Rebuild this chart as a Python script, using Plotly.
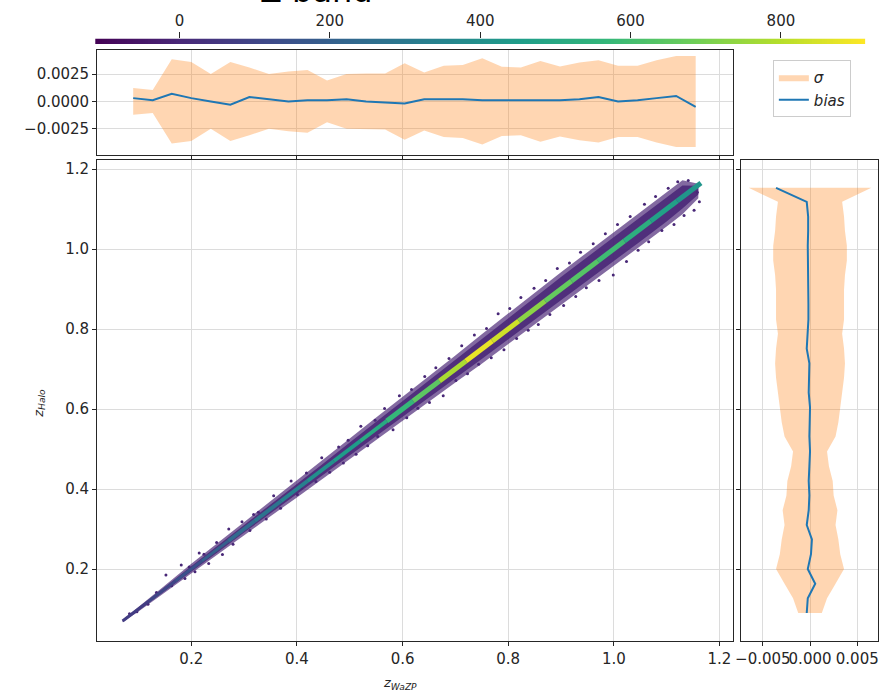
import numpy as np
import plotly.graph_objects as go
from plotly.colors import sample_colorscale

# ---------------- data ----------------
CMIN, CMAX = -112, 912
cb_ticks = [0, 200, 400, 600, 800]

bin_x = [0.090, 0.127, 0.163, 0.200, 0.237, 0.274, 0.310, 0.347, 0.384, 0.420,
         0.457, 0.494, 0.531, 0.567, 0.604, 0.641, 0.678, 0.714, 0.751, 0.788,
         0.824, 0.861, 0.898, 0.935, 0.971, 1.008, 1.045, 1.081, 1.118, 1.155]
bias_top = [0.0003, 0.0001, 0.0007, 0.0003, 0.0, -0.0003, 0.0004, 0.0002, 0.0, 0.0001,
            0.0001, 0.0002, 0.0, -0.0001, -0.0002, 0.0002, 0.0002, 0.0002, 0.0001, 0.0001,
            0.0001, 0.0001, 0.0001, 0.0002, 0.0004, 0.0, 0.0001, 0.0003, 0.0005, -0.0005]
sigma_top = [0.00123, 0.00105, 0.00386, 0.00361, 0.0025, 0.00361, 0.0031, 0.0025, 0.00274, 0.00286,
             0.0019, 0.0025, 0.00256, 0.00256, 0.0035, 0.00265, 0.00325, 0.00334, 0.00395, 0.00316,
             0.0031, 0.0037, 0.0032, 0.00355, 0.00376, 0.00325, 0.00325, 0.00376, 0.00416, 0.00416]

bin_z = [0.090, 0.127, 0.163, 0.200, 0.237, 0.274, 0.310, 0.347, 0.384, 0.420,
         0.457, 0.494, 0.531, 0.567, 0.604, 0.641, 0.678, 0.714, 0.751, 0.788,
         0.824, 0.861, 0.898, 0.935, 0.971, 1.008, 1.045, 1.081, 1.118, 1.153]
bias_right = [-0.00035, -0.00024, 0.00055, -0.00024, 0.0001, 0.0002, -0.00035, -0.00014, -0.00007, -0.00014,
              -0.00007, 0.0, -0.00007, -0.00007, 0.0, -0.00014, -0.00014, -0.00007, -0.00035, -0.00024,
              -0.00017, -0.00017, -0.0002, -0.00017, -0.00024, -0.00024, -0.0002, -0.0002, -0.00035, -0.0036]
sigma_right = [0.00125, 0.0018, 0.0027, 0.0036, 0.0032, 0.0030, 0.0027, 0.0029, 0.0025, 0.0024,
               0.0020, 0.0018, 0.0027, 0.0030, 0.0032, 0.0034, 0.0036, 0.0037, 0.0036, 0.0034,
               0.0036, 0.0036, 0.0036, 0.0037, 0.0039, 0.0039, 0.0037, 0.0036, 0.0034, 0.0065]

# dense point cloud envelope (z_WaZP, z_Halo lower/upper)
cloud_x = [0.07, 0.10, 0.15, 0.20, 0.25, 0.30, 0.35, 0.40, 0.45, 0.50, 0.55, 0.60,
           0.65, 0.70, 0.75, 0.80, 0.85, 0.90, 0.95, 1.00, 1.05, 1.10, 1.13, 1.16]
cloud_lo_outer = [0.067, 0.094, 0.141, 0.187, 0.235, 0.284, 0.332, 0.379, 0.427, 0.474, 0.521, 0.570,
                  0.618, 0.666, 0.713, 0.761, 0.809, 0.858, 0.908, 0.958, 1.007, 1.056, 1.087, 1.127]
cloud_hi_outer = [0.073, 0.106, 0.159, 0.213, 0.265, 0.316, 0.368, 0.421, 0.473, 0.526, 0.579, 0.630,
                  0.682, 0.734, 0.787, 0.839, 0.891, 0.942, 0.992, 1.042, 1.093, 1.144, 1.172, 1.163]
cloud_lo_inner = [0.069, 0.097, 0.145, 0.193, 0.242, 0.291, 0.340, 0.388, 0.436, 0.484, 0.532, 0.581,
                  0.629, 0.677, 0.725, 0.773, 0.821, 0.870, 0.920, 0.970, 1.019, 1.069, 1.101, 1.136]
cloud_hi_inner = [0.071, 0.103, 0.155, 0.207, 0.258, 0.309, 0.360, 0.412, 0.464, 0.516, 0.568, 0.619,
                  0.671, 0.723, 0.775, 0.827, 0.879, 0.930, 0.980, 1.030, 1.081, 1.131, 1.159, 1.158]

# scattered individual points
pts_x = [0.083, 0.097, 0.118, 0.134, 0.152, 0.163, 0.181, 0.188, 0.196, 0.207, 0.215, 0.224,
         0.233, 0.248, 0.259, 0.271, 0.279, 0.296, 0.311, 0.318, 0.327, 0.342, 0.356, 0.369,
         0.389, 0.401, 0.408, 0.418, 0.436, 0.447, 0.462, 0.479, 0.488, 0.497, 0.512, 0.521,
         0.534, 0.548, 0.553, 0.566, 0.582, 0.594, 0.608, 0.617, 0.629, 0.642, 0.651, 0.663,
         0.677, 0.688, 0.701, 0.712, 0.723, 0.736, 0.744, 0.759, 0.768, 0.781, 0.792, 0.803,
         0.816, 0.824, 0.838, 0.849, 0.857, 0.871, 0.879, 0.893, 0.905, 0.916, 0.928, 0.937,
         0.948, 0.961, 0.972, 0.984, 0.999, 1.007, 1.024, 1.031, 1.046, 1.058, 1.066, 1.079,
         1.091, 1.103, 1.114, 1.121, 1.133, 1.141, 1.152, 1.158, 1.162]
pts_y = [0.088, 0.093, 0.112, 0.141, 0.185, 0.158, 0.210, 0.176, 0.205, 0.193, 0.240, 0.237,
         0.214, 0.266, 0.236, 0.300, 0.262, 0.318, 0.296, 0.336, 0.342, 0.325, 0.383, 0.352,
         0.420, 0.386, 0.402, 0.440, 0.419, 0.478, 0.442, 0.505, 0.465, 0.522, 0.487, 0.557,
         0.508, 0.572, 0.531, 0.601, 0.548, 0.633, 0.578, 0.649, 0.602, 0.681, 0.616, 0.703,
         0.633, 0.726, 0.671, 0.758, 0.688, 0.785, 0.712, 0.801, 0.728, 0.838, 0.748, 0.851,
         0.776, 0.879, 0.797, 0.902, 0.811, 0.921, 0.836, 0.951, 0.859, 0.965, 0.881, 0.992,
         0.903, 1.013, 0.921, 1.038, 0.935, 1.061, 0.969, 1.081, 0.997, 1.112, 1.018, 1.131,
         1.046, 1.152, 1.061, 1.168, 1.084, 1.171, 1.097, 1.142, 1.118]

# dense core (density-coloured)
core_x = [0.07, 0.12, 0.17, 0.22, 0.27, 0.32, 0.37, 0.42, 0.47, 0.52, 0.57, 0.62,
          0.67, 0.72, 0.77, 0.82, 0.87, 0.92, 0.97, 1.02, 1.07, 1.12, 1.165]
core_y = [0.07, 0.12, 0.17, 0.22, 0.27, 0.32, 0.37, 0.42, 0.47, 0.52, 0.57, 0.62,
          0.67, 0.72, 0.77, 0.82, 0.87, 0.92, 0.97, 1.02, 1.07, 1.12, 1.165]
core_d = [60, 90, 120, 170, 220, 260, 300, 370, 420, 480, 540, 600,
          700, 860, 900, 780, 680, 650, 620, 560, 500, 440, 400]

# ---------------- figure ----------------
W, H = 881, 691
FONT = "DejaVu Sans"
BAND = "rgba(255,127,14,0.32)"
BLUE = "#1f77b4"
GRID = "#dcdcdc"
AX = "#262626"


def px(a, b):
    return [a / W, b / W]


def py(top, bottom):
    return [1 - bottom / H, 1 - top / H]


fig = go.Figure()

# top panel: sigma band + bias
fig.add_trace(go.Scatter(
    x=bin_x + bin_x[::-1], y=sigma_top + [-s for s in sigma_top[::-1]],
    fill="toself", fillcolor=BAND, line=dict(width=0), mode="lines",
    name="<i>σ</i>", xaxis="x2", yaxis="y2", hoverinfo="skip"))
fig.add_trace(go.Scatter(
    x=bin_x, y=bias_top, mode="lines", line=dict(color=BLUE, width=2),
    name="<i>bias</i>", xaxis="x2", yaxis="y2"))

# right panel
fig.add_trace(go.Scatter(
    x=sigma_right + [-s for s in sigma_right[::-1]], y=bin_z + bin_z[::-1],
    fill="toself", fillcolor=BAND, line=dict(width=0), mode="lines",
    showlegend=False, xaxis="x3", yaxis="y3", hoverinfo="skip"))
fig.add_trace(go.Scatter(
    x=bias_right, y=bin_z, mode="lines", line=dict(color=BLUE, width=2),
    showlegend=False, xaxis="x3", yaxis="y3"))

# main panel cloud
low_col = sample_colorscale("Viridis", [(0 - CMIN) / (CMAX - CMIN)])[0]
fig.add_trace(go.Scatter(
    x=cloud_x + cloud_x[::-1], y=cloud_hi_outer + cloud_lo_outer[::-1],
    fill="toself", fillcolor="rgba(72,36,117,0.68)", line=dict(width=0),
    mode="lines", showlegend=False, hoverinfo="skip"))
fig.add_trace(go.Scatter(
    x=cloud_x + cloud_x[::-1], y=cloud_hi_inner + cloud_lo_inner[::-1],
    fill="toself", fillcolor="rgba(72,36,117,0.85)", line=dict(width=0),
    mode="lines", showlegend=False, hoverinfo="skip"))
fig.add_trace(go.Scatter(
    x=pts_x, y=pts_y, mode="markers",
    marker=dict(size=3, color=low_col), showlegend=False))

# density-coloured core
for i in range(len(core_x) - 1):
    d = 0.5 * (core_d[i] + core_d[i + 1])
    col = sample_colorscale("Viridis", [(d - CMIN) / (CMAX - CMIN)])[0]
    w = 3 if core_x[i] < 0.25 else (4 if core_x[i] < 0.55 else 5)
    fig.add_trace(go.Scatter(
        x=core_x[i:i + 2], y=core_y[i:i + 2], mode="lines",
        line=dict(color=col, width=w),
        showlegend=False, hoverinfo="skip"))

# colour bar as a gradient strip on its own axis
cb_vals = list(np.linspace(CMIN, CMAX, 300))
fig.add_trace(go.Heatmap(
    x=cb_vals, y=[0], z=[cb_vals], colorscale="Viridis",
    zmin=CMIN, zmax=CMAX, showscale=False, xaxis="x4", yaxis="y4",
    hoverinfo="skip"))

tickfont = dict(family=FONT, size=15, color=AX)
axcommon = dict(showline=True, linecolor=AX, linewidth=1.2, mirror=True,
                ticks="outside", ticklen=4, tickcolor=AX, tickfont=tickfont,
                showgrid=True, gridcolor=GRID, gridwidth=1, zeroline=False)

fig.update_layout(
    width=W, height=H, margin=dict(l=0, r=0, t=0, b=0),
    paper_bgcolor="white", plot_bgcolor="white",
    font=dict(family=FONT, size=15, color=AX),
    xaxis=dict(domain=px(92, 733), range=[0.022, 1.226], tickvals=[0.2, 0.4, 0.6, 0.8, 1.0, 1.2],
               tickformat=".1f", anchor="y", **axcommon),
    yaxis=dict(domain=py(160, 641), range=[0.02, 1.2225], tickvals=[0.2, 0.4, 0.6, 0.8, 1.0, 1.2],
               tickformat=".1f", anchor="x", **axcommon),
    xaxis2=dict(domain=px(92, 733), matches="x", showticklabels=False, anchor="y2",
                tickvals=[0.2, 0.4, 0.6, 0.8, 1.0, 1.2], **axcommon),
    yaxis2=dict(domain=py(50, 155), range=[-0.0049, 0.0047], tickvals=[-0.0025, 0, 0.0025],
                tickformat=".4f", anchor="x2", **axcommon),
    xaxis3=dict(domain=px(741, 879), range=[-0.0073, 0.0072], tickvals=[-0.005, 0, 0.005],
                tickformat=".3f", tickangle=0, anchor="y3", **axcommon),
    yaxis3=dict(domain=py(160, 641), matches="y", showticklabels=False, anchor="x3",
                tickvals=[0.2, 0.4, 0.6, 0.8, 1.0, 1.2], **axcommon),
    xaxis4=dict(domain=px(90, 866), range=[CMIN, CMAX], side="top", anchor="y4",
                tickvals=cb_ticks, ticks="outside", ticklen=6, tickcolor=AX,
                tickfont=tickfont, showgrid=False, zeroline=False, showline=False),
    yaxis4=dict(domain=py(38.5, 44), range=[-0.5, 0.5], visible=False, anchor="x4"),
    legend=dict(x=773 / W, y=1 - 60 / H, xanchor="left", yanchor="top",
                bgcolor="white", bordercolor="#cccccc", borderwidth=1,
                font=dict(family=FONT, size=15, color=AX), itemwidth=30,
                tracegroupgap=0),
    annotations=[
        dict(text="Z band", x=313 / W, y=1 - 12 / H, xref="paper", yref="paper",
             xanchor="center", yanchor="bottom", showarrow=False,
             font=dict(family=FONT, size=32, color="black")),
        dict(text="<i>z</i><sub><i>WaZP</i></sub>", x=397 / W, y=1 - 683 / H,
             xref="paper", yref="paper", xanchor="center", yanchor="middle",
             showarrow=False, font=dict(family=FONT, size=13, color=AX)),
        dict(text="<i>z</i><sub><i>Halo</i></sub>", x=33 / W, y=1 - 403 / H,
             xref="paper", yref="paper", xanchor="center", yanchor="middle",
             textangle=-90, showarrow=False, font=dict(family=FONT, size=13, color=AX)),
    ],
)

fig.write_html(
    "out.html",
    config={"displayModeBar": False},
    post_script="document.body.style.margin='0';document.body.style.overflow='hidden';",
)
